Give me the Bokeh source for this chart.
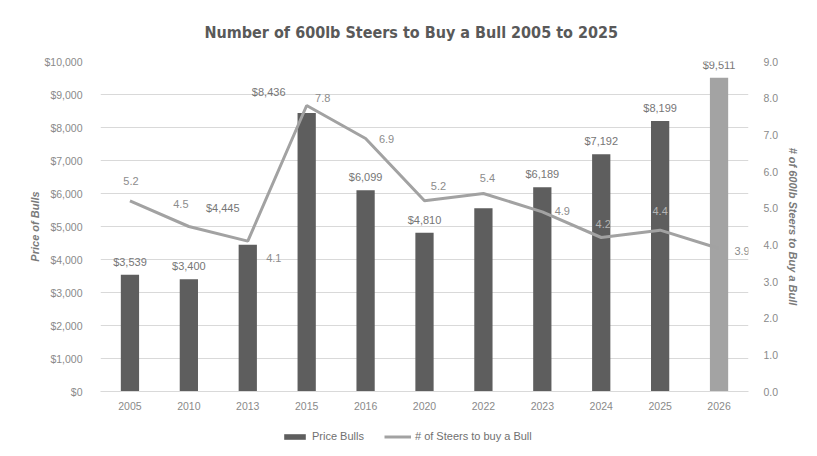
from bokeh.plotting import figure
from bokeh.layouts import column
from bokeh.models import (ColumnDataSource, FactorRange, Range1d, LinearAxis,
                          NumeralTickFormatter, FixedTicker, Legend, LegendItem)
from bokeh.core.properties import value
from bokeh.embed import file_html
from bokeh.resources import INLINE

# ---- data ----
years = ["2005", "2010", "2013", "2015", "2016", "2020", "2022", "2023", "2024", "2025", "2026"]
price_bulls = [3539, 3400, 4445, 8436, 6099, 4810, 5550, 6189, 7192, 8199, 9511]
steers_per_bull = [5.2, 4.5, 4.1, 7.8, 6.9, 5.2, 5.4, 4.9, 4.2, 4.4, 3.9]
price_labels = ["$3,539", "$3,400", "$4,445", "$8,436", "$6,099", "$4,810", "",
                "$6,189", "$7,192", "$8,199", "$9,511"]
steer_labels = ["5.2", "4.5", "4.1", "7.8", "6.9", "5.2", "5.4", "4.9", "4.2", "4.4", "3.9"]
left_ticks = [0, 1000, 2000, 3000, 4000, 5000, 6000, 7000, 8000, 9000, 10000]
right_ticks = [0.0, 1.0, 2.0, 3.0, 4.0, 5.0, 6.0, 7.0, 8.0, 9.0]
legend_labels = ["Price Bulls", "# of Steers to buy a Bull"]

# ---- styling ----
BAR_DARK = "#5e5e5e"
BAR_LIGHT = "#a3a3a3"
LINE_COL = "#a2a2a2"
bar_colors = [BAR_DARK] * 10 + [BAR_LIGHT]
price_dx = [0, 0, -25, -38, 0, 0, 0, 0, 0, 0, 0]
price_dy = [-13, -13, -37, -21, -13, -13, -13, -13, -13, -13, -13]
steer_dx = [1, -8, 26, 16, 21, 14, 4, 20, 2, 0, 23]
steer_dy = [-20, -23, 17, -8, 0, -15, -16, -1, -14, -19, 2]
steer_col = ["#8c8c8c"] * 8 + ["#b4b4b4", "#b4b4b4", "#8c8c8c"]

FONT = "Liberation Sans"

src = ColumnDataSource(dict(
    year=years, price=price_bulls, steers=steers_per_bull,
    plabel=price_labels, slabel=steer_labels, color=bar_colors,
    pdx=price_dx, pdy=price_dy, sdx=steer_dx, sdy=steer_dy, scol=steer_col,
))

p = figure(
    x_range=FactorRange(*years), y_range=Range1d(0, 10000),
    width=817, height=420, frame_width=648, frame_height=330,
    min_border_left=100, min_border_right=69, min_border_top=61, min_border_bottom=29,
    output_backend="svg", toolbar_location=None,
    title="Number of 600lb Steers to Buy a Bull 2005 to 2025",
)
p.extra_y_ranges = {"steers": Range1d(0, 9)}

p.title.align = "left"
p.title.text_font = "'Liberation Sans Narrow', 'DejaVu Sans Condensed', Roboto"
p.title.text_font_style = "bold"
p.title.text_font_size = "16px"
p.title.text_color = "#595959"
p.title.standoff = 40
p.title.offset = 104

p.outline_line_color = None
p.background_fill_color = "white"
p.border_fill_color = "white"

# grid
p.xgrid.grid_line_color = None
p.ygrid.grid_line_color = "#d9d9d9"
p.ygrid.grid_line_width = 1
p.yaxis.ticker = FixedTicker(ticks=left_ticks)

# bars
bars = p.vbar(x="year", top="price", width=0.31, source=src,
              fill_color="color", line_color=None)

# line
line = p.line(x="year", y="steers", source=src, y_range_name="steers",
              line_color=LINE_COL, line_width=3)

# labels
p.text(x="year", y="price", text="plabel", source=src,
       x_offset="pdx", y_offset="pdy", text_align="center", text_baseline="middle",
       text_font=value(FONT), text_font_size="11px", text_color="#767676")
p.text(x="year", y="steers", text="slabel", source=src, y_range_name="steers",
       x_offset="sdx", y_offset="sdy", text_align="center", text_baseline="middle",
       text_font=value(FONT), text_font_size="11px", text_color="scol")

# axes
def style_axis(ax):
    ax.axis_line_color = None
    ax.major_tick_line_color = None
    ax.minor_tick_line_color = None
    ax.major_label_text_font = FONT
    ax.major_label_text_font_size = "10.5px"
    ax.major_label_text_color = "#8a8a8a"
    ax.axis_label_text_font = FONT
    ax.axis_label_text_font_style = "bold italic"
    ax.axis_label_text_font_size = "11px"
    ax.axis_label_text_color = "#7a7a7a"

yl = p.yaxis[0]
style_axis(yl)
yl.formatter = NumeralTickFormatter(format="$0,0")
yl.axis_label = "Price of Bulls"
yl.major_label_standoff = 12
yl.axis_label_standoff = 1

yr = LinearAxis(y_range_name="steers", ticker=FixedTicker(ticks=right_ticks),
                formatter=NumeralTickFormatter(format="0.0"),
                axis_label="# of 600lb Steers to Buy a Bull")
style_axis(yr)
yr.major_label_standoff = 9
yr.axis_label_standoff = 6
p.add_layout(yr, "right")

xa = p.xaxis[0]
style_axis(xa)
xa.axis_line_color = "#d9d9d9"
xa.major_label_standoff = 4

# ---- legend strip (separate small figure below the chart) ----
lg = figure(width=817, height=32, x_range=Range1d(0, 1), y_range=Range1d(0, 1),
            output_backend="svg", toolbar_location=None,
            min_border_left=0, min_border_right=0, min_border_top=0, min_border_bottom=0)
lg.axis.visible = False
lg.grid.grid_line_color = None
lg.outline_line_color = None
lg.border_fill_color = "white"
# proxy renderers (a single point outside the visible range) that only feed the legend keys
proxy = ColumnDataSource(dict(x=[-5.0], y=[-5.0]))
lbar = lg.vbar(x="x", top="y", width=0.1, source=proxy, fill_color=BAR_DARK, line_color=None)
lline = lg.line(x="x", y="y", source=proxy, line_color=LINE_COL, line_width=3)

legend = Legend(items=[
    LegendItem(label=legend_labels[0], renderers=[lbar], index=0),
    LegendItem(label=legend_labels[1], renderers=[lline], index=0),
], orientation="horizontal", location=(181, 10))
legend.border_line_color = None
legend.background_fill_alpha = 0
legend.label_text_font = FONT
legend.label_text_font_size = "11px"
legend.label_text_color = "#707070"
legend.glyph_width = 27
legend.glyph_height = 7
legend.spacing = 20
legend.padding = 2
legend.margin = 0
legend.label_standoff = 4
lg.add_layout(legend, "center")

layout = column(p, lg, spacing=0)
open("out.html", "w").write(file_html(layout, INLINE))
